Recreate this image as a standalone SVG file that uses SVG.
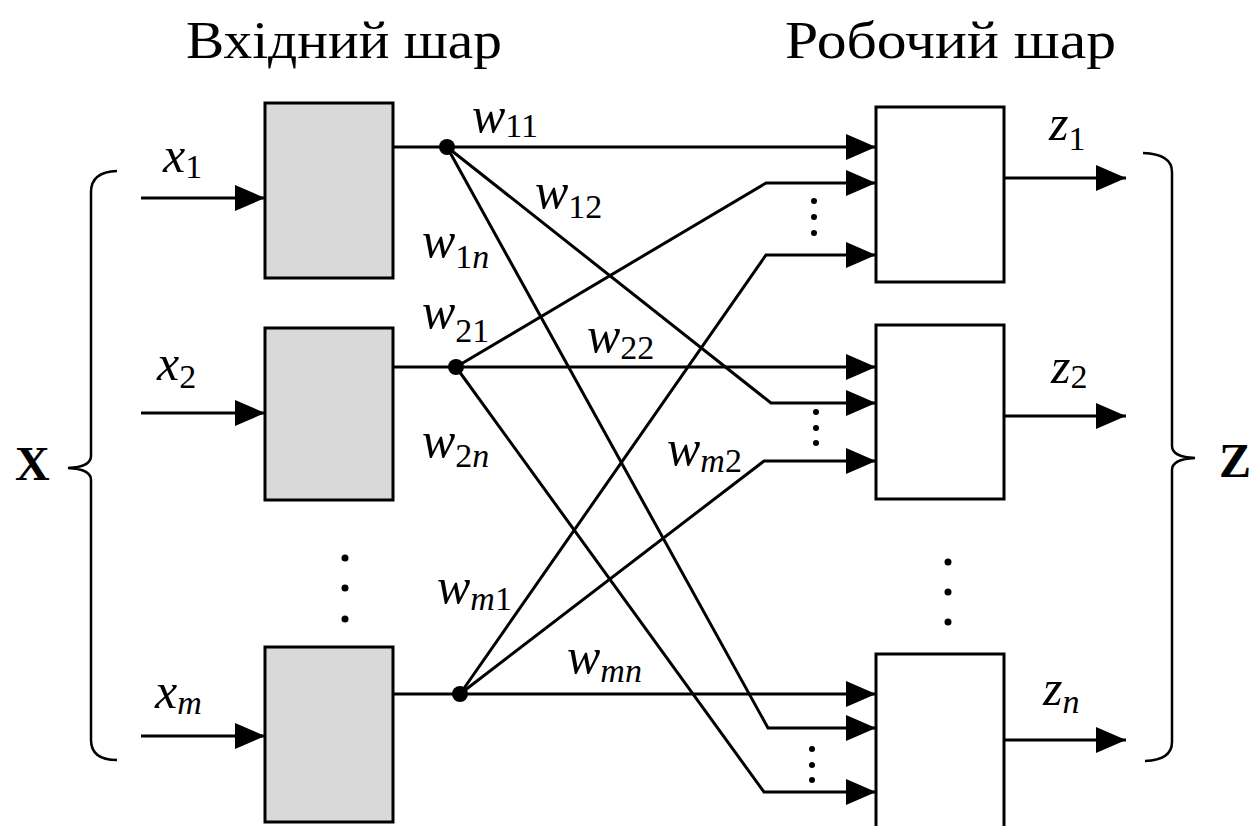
<svg xmlns="http://www.w3.org/2000/svg" width="1255" height="826" viewBox="0 0 1255 826">
<style>
.in{fill:#d9d9d9;stroke:#000;stroke-width:3}
.out{fill:#fff;stroke:#000;stroke-width:3}
.ln{fill:none;stroke:#000;stroke-width:3}
.br{fill:none;stroke:#000;stroke-width:2.5}
.dot{fill:#000}
.title{font-family:"Liberation Serif",serif;font-size:52px;fill:#000}
.it{font-family:"Liberation Serif",serif;font-style:italic;font-size:50px;fill:#000}
.sub{font-size:34px;font-style:normal}
.subi{font-size:34px;font-style:italic}
.big{font-family:"Liberation Serif",serif;font-weight:bold;font-size:48px;fill:#000}
</style>
<defs>
<marker id="arr" viewBox="0 0 30 26" markerWidth="30" markerHeight="26" refX="30" refY="13" markerUnits="userSpaceOnUse" orient="auto">
<path d="M0,0 L30,13 L0,26 Z" fill="#000"/>
</marker>
</defs>
<rect width="1255" height="826" fill="#fff"/>

<g id="titles">
<text class="title" x="186" y="58" textLength="316" lengthAdjust="spacingAndGlyphs">Вхідний шар</text>
<text class="title" x="785" y="58" textLength="331" lengthAdjust="spacingAndGlyphs">Робочий шар</text>
</g>

<g id="in1"><rect class="in" x="265" y="103" width="128" height="175"/></g>
<g id="in2"><rect class="in" x="265" y="328" width="128" height="172"/></g>
<g id="in3"><rect class="in" x="265" y="647" width="128" height="175"/></g>
<g id="out1"><rect class="out" x="876" y="107" width="128" height="175"/></g>
<g id="out2"><rect class="out" x="876" y="325" width="128" height="174"/></g>
<g id="out3"><rect class="out" x="876" y="654" width="128" height="180"/></g>

<g id="connectors">
<path class="ln" d="M141,198 H265" marker-end="url(#arr)"/>
<path class="ln" d="M141,413 H265" marker-end="url(#arr)"/>
<path class="ln" d="M141,736 H265" marker-end="url(#arr)"/>
<path class="ln" d="M393,147 H447"/>
<path class="ln" d="M393,367 H456"/>
<path class="ln" d="M393,694 H460"/>
<path class="ln" d="M447,147 H876" marker-end="url(#arr)"/>
<path class="ln" d="M447,147 L771,403 H876" marker-end="url(#arr)"/>
<path class="ln" d="M447,147 L768,728 H876" marker-end="url(#arr)"/>
<path class="ln" d="M456,367 L766,183 H876" marker-end="url(#arr)"/>
<path class="ln" d="M456,367 H876" marker-end="url(#arr)"/>
<path class="ln" d="M456,367 L764,792 H876" marker-end="url(#arr)"/>
<path class="ln" d="M460,694 L766,255 H876" marker-end="url(#arr)"/>
<path class="ln" d="M460,694 L764,461 H876" marker-end="url(#arr)"/>
<path class="ln" d="M460,694 H876" marker-end="url(#arr)"/>
<path class="ln" d="M1004,178 H1126" marker-end="url(#arr)"/>
<path class="ln" d="M1004,416 H1126" marker-end="url(#arr)"/>
<path class="ln" d="M1004,740 H1126" marker-end="url(#arr)"/>
<circle class="dot" cx="447" cy="147" r="8"/>
<circle class="dot" cx="456" cy="367" r="8"/>
<circle class="dot" cx="460" cy="694" r="8"/>
</g>

<g id="braces">
<path class="br" d="M117,171 Q91,172 91,192 V456 Q91,467 68,468 Q91,469 91,480 V740 Q91,760 117,760"/>
<path class="br" d="M1143,153 Q1172,154 1172,172 V446 Q1172,457 1195,458 Q1172,459 1172,470 V742 Q1172,760 1145,761"/>
<text class="big" x="15" y="480">X</text>
<text class="big" x="1219" y="477">Z</text>
</g>

<g id="ellipses">
<circle class="dot" cx="345" cy="558" r="3.5"/>
<circle class="dot" cx="345" cy="588" r="3.5"/>
<circle class="dot" cx="345" cy="619" r="3.5"/>
<circle class="dot" cx="948" cy="562" r="3.5"/>
<circle class="dot" cx="948" cy="592" r="3.5"/>
<circle class="dot" cx="948" cy="622" r="3.5"/>
<circle class="dot" cx="814" cy="201" r="3"/>
<circle class="dot" cx="814" cy="217" r="3"/>
<circle class="dot" cx="814" cy="233" r="3"/>
<circle class="dot" cx="816" cy="412" r="3"/>
<circle class="dot" cx="816" cy="428" r="3"/>
<circle class="dot" cx="816" cy="443" r="3"/>
<circle class="dot" cx="812" cy="749" r="3"/>
<circle class="dot" cx="812" cy="765" r="3"/>
<circle class="dot" cx="812" cy="780" r="3"/>
</g>

<g id="labels">
<text class="it" x="163" y="172">x<tspan class="sub" y="178">1</tspan></text>
<text class="it" x="157" y="380">x<tspan class="sub" y="388">2</tspan></text>
<text class="it" x="155" y="708">x<tspan class="subi" y="714">m</tspan></text>
<text class="it" x="472" y="132">w<tspan class="sub" y="137">11</tspan></text>
<text class="it" x="535" y="208">w<tspan class="sub" y="218">12</tspan></text>
<text class="it" x="422" y="257">w<tspan class="sub" y="268">1</tspan><tspan class="subi">n</tspan></text>
<text class="it" x="422" y="328">w<tspan class="sub" y="342">21</tspan></text>
<text class="it" x="587" y="352">w<tspan class="sub" y="359">22</tspan></text>
<text class="it" x="422" y="457">w<tspan class="sub" y="467">2</tspan><tspan class="subi">n</tspan></text>
<text class="it" x="437" y="603">w<tspan class="subi" y="610">m</tspan><tspan class="sub">1</tspan></text>
<text class="it" x="667" y="465">w<tspan class="subi" y="472">m</tspan><tspan class="sub">2</tspan></text>
<text class="it" x="567" y="673">w<tspan class="subi" y="682">mn</tspan></text>
<text class="it" x="1049" y="140">z<tspan class="sub" y="150">1</tspan></text>
<text class="it" x="1051" y="383">z<tspan class="sub" y="388">2</tspan></text>
<text class="it" x="1043" y="705">z<tspan class="subi" y="713">n</tspan></text>
</g>
</svg>
